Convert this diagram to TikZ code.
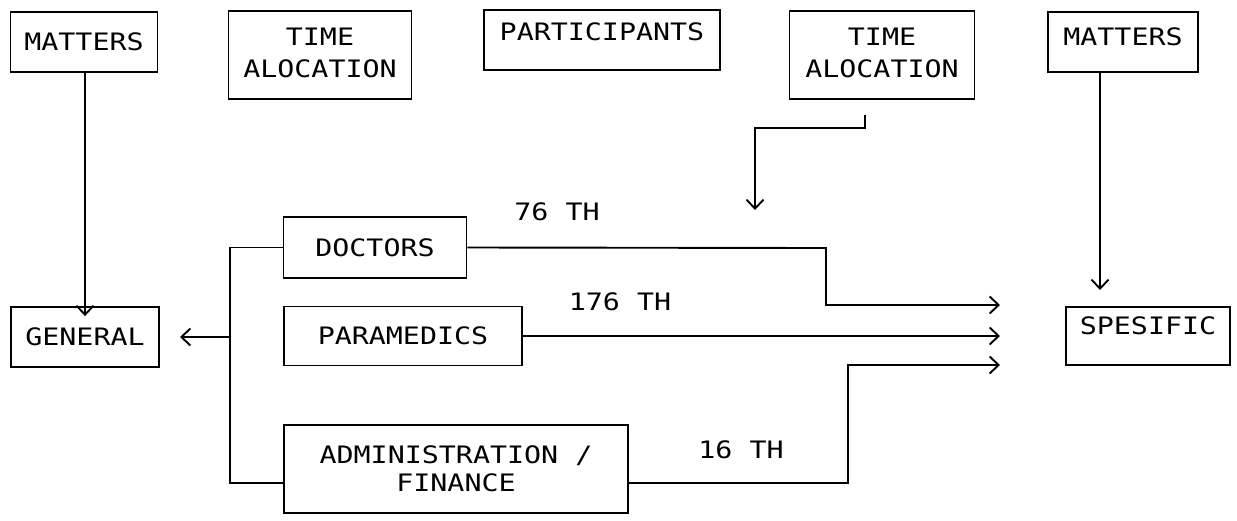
\documentclass[tikz,border=0pt]{standalone}
\usepackage{fontspec}
\newfontfamily\dm[FakeStretch=1.18]{DejaVu Sans Mono}
\usetikzlibrary{arrows.meta}
\begin{document}
\begin{tikzpicture}[x=1pt,y=-1pt,
  box/.style={draw, line width=1.9pt, inner sep=0pt, align=center,
    font=\dm\fontsize{24}{31}\selectfont},
  lbl/.style={inner sep=0pt, font=\dm\fontsize{24}{30}\selectfont},
  conn/.style={line width=1.9pt},
  arr/.style={line width=1.9pt, -{Straight Barb[length=9pt,width=17pt]}}]
\useasboundingbox (0,0) rectangle (1237,520);
% top row
\node[box, minimum width=147pt, minimum height=60pt] (mL) at (84,42) {MATTERS};
\node[box, minimum width=183pt, minimum height=88pt] (t1) at (320,55) {\raisebox{5pt}{\begin{tabular}{@{}c@{}}TIME\\[1pt]ALOCATION\end{tabular}}};
\node[box, minimum width=236pt, minimum height=60pt, text depth=16pt] (part) at (602,40) {PARTICIPANTS};
\node[box, minimum width=185pt, minimum height=88pt] (t2) at (882,55) {\raisebox{5pt}{\begin{tabular}{@{}c@{}}TIME\\[1pt]ALOCATION\end{tabular}}};
\node[box, minimum width=150pt, minimum height=60pt, text depth=10pt] (mR) at (1123,42) {MATTERS};
% side boxes
\node[box, minimum width=148pt, minimum height=60pt] (gen) at (85,337) {GENERAL};
\node[box, minimum width=164pt, minimum height=58pt, text depth=20pt] (spe) at (1148,336) {SPESIFIC};
% participants boxes
\node[box, minimum width=183pt, minimum height=61pt] (doc) at (375,247.5) {DOCTORS};
\node[box, minimum width=238pt, minimum height=59pt] (para) at (403,336) {PARAMEDICS};
\node[box, minimum width=344pt, minimum height=88pt, font=\dm\fontsize{24}{28}\selectfont] (adm) at (456,469) {ADMINISTRATION /\\FINANCE};
% labels
\node[lbl] (l76) at (557,212) {76 TH};
\node[lbl] (l176) at (620,302) {176 TH};
\node[lbl] (l16) at (741,450) {16 TH};
% coordinates
\coordinate (bus) at (230,0);
\coordinate (tipD) at (1000,305);
\coordinate (tipP) at (1000,336);
\coordinate (tipA) at (1000,365);
\coordinate (t2s) at (865,115);
% connectors
\draw[arr] (mL.south -| gen) -- ([yshift=-10pt]gen.north);
\draw[arr] (mR.south -| 1100,0) -- (1100,290);
\draw[conn] (doc.west) -- (doc.west -| bus) -- (bus |- 0,483) -- (adm.west |- 0,483);
\draw[arr] (bus |- 0,337) -- (180,337);
\draw[arr] (doc.east) -- (826,248) -- (826,305) -- (tipD);
\draw[arr] (para.east) -- (tipP);
\draw[arr] (adm.east |- 0,483) -- (848,483) -- (848,365) -- (tipA);
\draw[arr] (t2s) -- (865,128) -- (755,128) -- (755,210);
\end{tikzpicture}
\end{document}
